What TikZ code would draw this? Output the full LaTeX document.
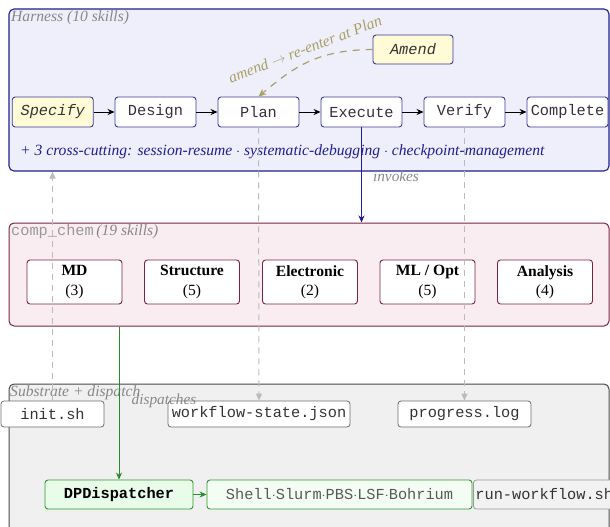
\documentclass[tikz,border=0pt]{standalone}
\usepackage{fontspec}
\setmainfont{Liberation Serif}
\setmonofont{Liberation Mono}
\usetikzlibrary{arrows.meta}
\definecolor{hfill}{HTML}{EFEFFB}
\definecolor{hline}{HTML}{1F1F8F}
\definecolor{nline}{HTML}{3A3AA0}
\definecolor{yfill}{HTML}{FFFBD6}
\definecolor{olivec}{HTML}{A8A064}
\definecolor{ccfill}{HTML}{F9EDF1}
\definecolor{ccline}{HTML}{7A2345}
\definecolor{sfill}{HTML}{F0F0F0}
\definecolor{sline}{HTML}{4A4A4A}
\definecolor{gline}{HTML}{2E9A2E}
\definecolor{gfill}{HTML}{E9FBE9}
\definecolor{gfill2}{HTML}{F4FDF4}
\definecolor{dashc}{HTML}{BBBBBB}
\definecolor{titlec}{HTML}{888888}
\definecolor{txtc}{HTML}{333333}
\begin{document}
\begin{tikzpicture}[x=1pt,y=-1pt,
  every node/.style={font=\fontsize{15.6}{19.5}\selectfont, inner sep=0pt},
  frame/.style={draw, line width=1.1pt, rounded corners=5pt},
  stage/.style={draw=nline, line width=0.9pt, fill=white, rounded corners=3pt,
    minimum width=81pt, minimum height=30pt, font=\fontsize{15.3}{19}\selectfont\ttfamily, text=txtc},
  ccbox/.style={draw=ccline, line width=0.9pt, fill=white, rounded corners=3pt,
    minimum width=95pt, minimum height=44pt, align=center},
  file/.style={draw=sline!80, line width=0.8pt, fill=white, rounded corners=3pt,
    minimum height=26pt, font=\fontsize{15.3}{19}\selectfont\ttfamily, text=txtc},
  title/.style={anchor=west, text=titlec, font=\fontsize{15.6}{19}\selectfont\itshape},
  arr/.style={-{Stealth[length=7pt,width=6pt]}, line width=1pt},
  gdash/.style={draw=dashc, line width=1pt, dash pattern=on 6pt off 5pt,
    -{Triangle[length=7pt,width=6pt]}}
]
\clip (0,0) rectangle (610,527);
% frames
\node[frame, draw=hline, fill=hfill, minimum width=600pt, minimum height=162pt] (harness) at (309,90) {};
\node[frame, draw=ccline, fill=ccfill, line width=1pt, minimum width=600pt, minimum height=103pt] (cc) at (309,274.5) {};
\node[frame, draw=sline, fill=sfill, line width=1pt, minimum width=600pt, minimum height=170pt] (sub) at (309,469) {};
% titles
\node[title] (htitle) at (11,18) {Harness (10 skills)};
\node[title] (cctitle) at (11,232) {{\upshape\ttfamily\fontsize{15.3}{19}\selectfont\color{black!40}comp\_chem}\,(19 skills)};
\node[title] (stitle) at (10,393) {Substrate + dispatch};
% stages
\node[stage, fill=yfill, font=\fontsize{15.3}{19}\selectfont\ttfamily\itshape] (specify) at (52.75,112) {Specify};
\node[stage] (design) at (155.5,112) {Design};
\node[stage] (plan) at (258.5,112) {Plan};
\node[stage] (exec) at (361.5,112) {Execute};
\node[stage] (verify) at (464.5,112) {Verify};
\node[stage] (complete) at (567.5,112) {Complete};
\node[stage, fill=yfill, minimum width=80pt, minimum height=29pt, font=\fontsize{15.3}{19}\selectfont\ttfamily\itshape] (amend) at (413,49.5) {Amend};
\foreach \a/\b in {specify/design, design/plan, plan/exec, exec/verify, verify/complete}
  \draw[arr] (\a) -- (\b);
\draw[olivec, line width=1.2pt, dash pattern=on 7pt off 6pt, -{Stealth[length=8pt,width=7pt]}]
  (amend.west) .. controls (318,50) and (295,66) .. (plan.north);
\node[text=olivec, font=\fontsize{15.6}{19}\selectfont\itshape, rotate=21] (amendlbl) at (305,49) {amend $\rightarrow$ re-enter at Plan};
\node[anchor=west, text=hline, font=\fontsize{15.6}{19}\selectfont\itshape] (cross) at (20,152)
  {+ 3 cross-cutting: session-resume $\cdot$ systematic-debugging $\cdot$ checkpoint-management};
% comp_chem boxes
\node[ccbox] (md) at (74.5,282) {\textbf{MD}\\(3)};
\node[ccbox] (struct) at (192,282) {\textbf{Structure}\\(5)};
\node[ccbox] (elec) at (310,282) {\textbf{Electronic}\\(2)};
\node[ccbox] (mlopt) at (427.5,282) {\textbf{ML / Opt}\\(5)};
\node[ccbox] (anal) at (545,282) {\textbf{Analysis}\\(4)};
% invokes
\draw[arr, hline] (exec.south) -- (exec.south |- cc.north);
\node[text=titlec, font=\fontsize{15.3}{19}\selectfont\itshape] (invlbl) at (396,176) {invokes};
% substrate files
\node[file, minimum width=103pt] (init) at (52.5,414) {init.sh};
\node[file, minimum width=182pt] (wf) at (259,414) {workflow-state.json};
\node[file, minimum width=133pt] (prog) at (464.5,414) {progress.log};
\node[draw=gline, line width=0.9pt, fill=gfill, rounded corners=3pt, minimum width=148pt, minimum height=29pt,
  font=\fontsize{15.3}{19}\selectfont\ttfamily\bfseries] (dp) at (119,494.5) {DPDispatcher};
\node[draw=gline, line width=0.9pt, fill=gfill2, rounded corners=3pt, minimum width=265pt, minimum height=29pt,
  font=\fontsize{15.3}{19}\selectfont\ttfamily, text=black!65] (shell) at (339.5,494.5) {Shell$\cdot$Slurm$\cdot$PBS$\cdot$LSF$\cdot$Bohrium};
\node[draw=black!40, line width=0.8pt, fill=black!5, rounded corners=3pt, minimum height=29pt, inner xsep=2pt,
  anchor=west, font=\fontsize{15.3}{19}\selectfont\ttfamily, text=txtc] (runwf) at (473,494.5) {run-workflow.sh};
% dispatches
\draw[arr, gline!90!black] (dp.north |- cc.south) -- (dp.north);
\node[text=titlec, font=\fontsize{15.3}{19}\selectfont\itshape] (displbl) at (164,401) {dispatches};
\draw[arr, gline!90!black] (dp) -- (shell);
% dashed state links
\draw[gdash] (init.north) -- (init.north |- harness.south);
\draw[gdash] (plan.south) -- (wf.north);
\draw[gdash] (verify.south) -- (prog.north);
\end{tikzpicture}
\end{document}
